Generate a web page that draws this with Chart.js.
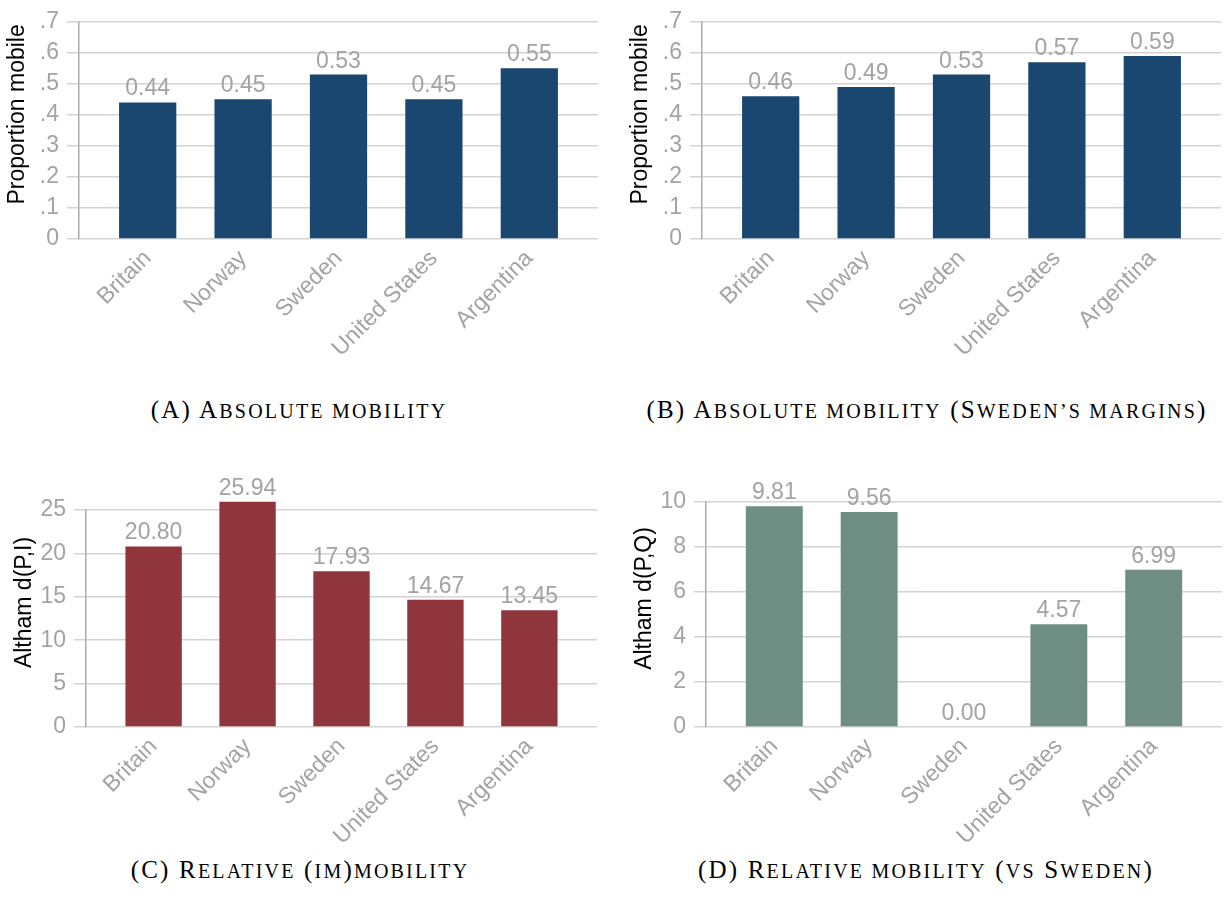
<!DOCTYPE html>
<html>
<head>
<meta charset="utf-8">
<script src="https://cdn.jsdelivr.net/npm/chart.js@4.4.0/dist/chart.umd.min.js"></script>
<style>
  body { margin: 0; background: #fff; }
  #page { position: relative; width: 1225px; height: 914px; overflow: hidden; }
  canvas { position: absolute; }
  .cap {
    position: absolute; width: 600px; text-align: center; white-space: nowrap;
    font-family: "Liberation Serif", "Times New Roman", serif; font-size: 25px;
    line-height: 28px; color: #000; letter-spacing: 2.2px;
  }
  .sc { font-size: 0.8em; text-transform: uppercase; }
</style>
</head>
<body>
<div id="page">
  <canvas id="chartA" width="612" height="385" style="left:0;top:0"></canvas>
  <canvas id="chartB" width="613" height="385" style="left:612px;top:0"></canvas>
  <canvas id="chartC" width="612" height="385" style="left:0;top:460px"></canvas>
  <canvas id="chartD" width="613" height="385" style="left:612px;top:460px"></canvas>

  <div class="cap" style="left:-1px;top:396px">(A) A<span class="sc">bsolute mobility</span></div>
  <div class="cap" style="left:627px;top:396px">(B) A<span class="sc">bsolute mobility</span> (S<span class="sc">weden’s margins</span>)</div>
  <div class="cap" style="left:0;top:856px">(C) R<span class="sc">elative</span> (<span class="sc">im</span>)<span class="sc">mobility</span></div>
  <div class="cap" style="left:626px;top:856px">(D) R<span class="sc">elative mobility</span> (<span class="sc">vs</span> S<span class="sc">weden</span>)</div>
</div>

<script>
// data
const countries = ['Britain', 'Norway', 'Sweden', 'United States', 'Argentina'];
const absMobility = [0.44, 0.45, 0.53, 0.45, 0.55];
const absMobilitySweMargins = [0.46, 0.49, 0.53, 0.57, 0.59];
const relImmobility = [20.80, 25.94, 17.93, 14.67, 13.45];
const relMobilityVsSweden = [9.81, 9.56, 0.00, 4.57, 6.99];

const GRAY = '#a3a3a3';
const GRID = '#d3d3d3';
const AXIS = '#ababab';
const SANS = '"Liberation Sans", Arial, sans-serif';
const FS = 23;

// numbers over the bars
const valueLabels = {
  id: 'valueLabels',
  afterDatasetsDraw(chart) {
    const ctx = chart.ctx;
    const ds = chart.data.datasets[0];
    ctx.save();
    ctx.font = FS + 'px ' + SANS;
    ctx.fillStyle = GRAY;
    ctx.textAlign = 'center';
    ctx.textBaseline = 'alphabetic';
    chart.getDatasetMeta(0).data.forEach((bar, i) => {
      ctx.fillText(ds.data[i].y.toFixed(2), bar.x, bar.y - 7);
    });
    ctx.restore();
  }
};

// y title, sits a bit above the middle of the plot like in stata
const yTitle = {
  id: 'yTitle',
  afterDraw(chart, args, opts) {
    const a = chart.chartArea;
    const ctx = chart.ctx;
    ctx.save();
    ctx.font = '23px ' + SANS;
    ctx.fillStyle = '#000';
    ctx.translate(a.left - 61, (a.top + a.bottom) / 2 - 16);
    ctx.rotate(-Math.PI / 2);
    ctx.textAlign = 'center';
    ctx.textBaseline = 'middle';
    ctx.fillText(opts.text, 0, 0);
    ctx.restore();
  }
};

function makePanel(id, values, color, yMax, yStep, yFmt, title, box) {
  const canvas = document.getElementById(id);
  const H = canvas.height;
  return new Chart(canvas, {
    type: 'bar',
    data: {
      datasets: [{
        data: values.map((v, i) => ({ x: i, y: v })),
        backgroundColor: color,
        barPercentage: 0.6,
        categoryPercentage: 1,
        clip: false
      }]
    },
    options: {
      responsive: false,
      animation: false,
      layout: { padding: { top: box.top, right: canvas.width - box.right, left: 0, bottom: 0 } },
      plugins: {
        legend: { display: false },
        tooltip: { enabled: false },
        yTitle: { text: title }
      },
      scales: {
        x: {
          type: 'linear',
          offset: false,
          min: -0.72,
          max: 4.72,
          grid: { display: false, drawTicks: false, offset: false },
          border: { display: false },
          ticks: {
            stepSize: 1,
            includeBounds: false,
            autoSkip: false,
            minRotation: 45,
            maxRotation: 45,
            padding: 6,
            color: GRAY,
            font: { family: SANS, size: FS },
            callback: v => Number.isInteger(v) ? countries[v] : ''
          },
          afterFit: s => { s.height = H - box.bottom; }
        },
        y: {
          min: 0,
          max: yMax,
          grid: { color: GRID, lineWidth: 1.5, tickLength: 12 },
          border: { display: true, color: AXIS, width: 1.5 },
          ticks: {
            stepSize: yStep,
            padding: 8,
            color: GRAY,
            font: { family: SANS, size: FS },
            callback: yFmt
          },
          afterFit: s => { s.width = box.left; }
        }
      }
    },
    plugins: [valueLabels, yTitle]
  });
}

const propFmt = v => v === 0 ? '0' : v.toFixed(1).replace(/^0/, '');
const intFmt = v => String(Math.round(v));

makePanel('chartA', absMobility, '#1a476f', 0.7, 0.1, propFmt, 'Proportion mobile',
  { left: 79, right: 598, top: 14, bottom: 239 });
makePanel('chartB', absMobilitySweMargins, '#1a476f', 0.7, 0.1, propFmt, 'Proportion mobile',
  { left: 90, right: 609, top: 14, bottom: 239 });
makePanel('chartC', relImmobility, '#90353b', 25, 5, intFmt, 'Altham d(P,I)',
  { left: 86, right: 597, top: 50, bottom: 267 });
makePanel('chartD', relMobilityVsSweden, '#6e8e84', 10, 2, intFmt, 'Altham d(P,Q)',
  { left: 94, right: 610, top: 42, bottom: 267 });
</script>
</body>
</html>
